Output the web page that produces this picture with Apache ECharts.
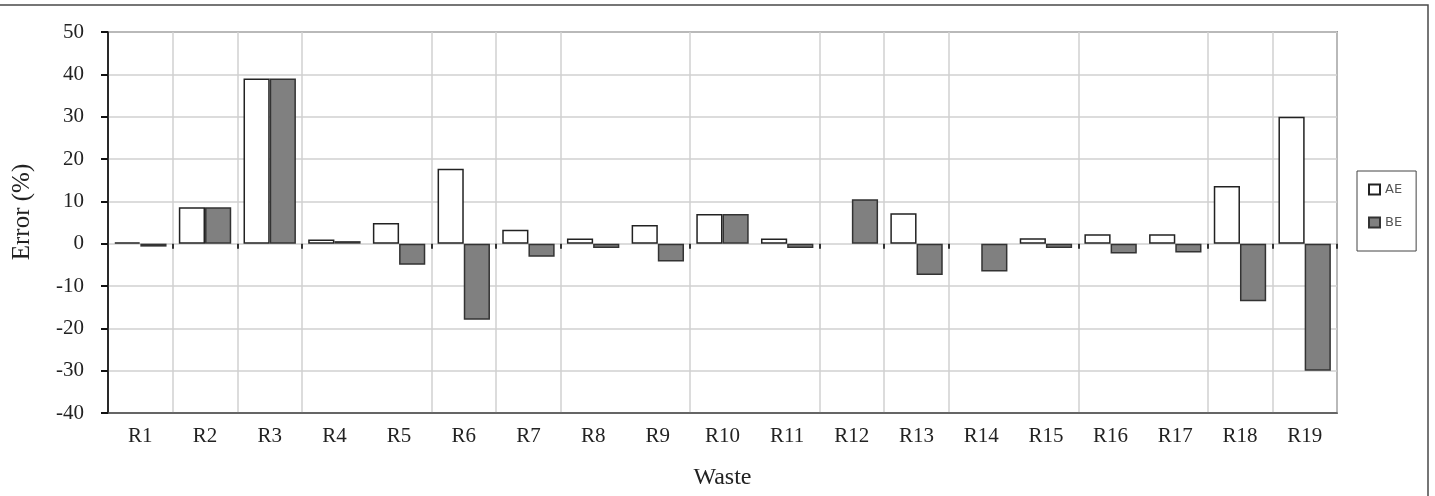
<!DOCTYPE html>
<html>
<head>
<meta charset="utf-8">
<script src="https://cdn.jsdelivr.net/npm/echarts@6/dist/echarts.min.js"></script>
<style>
  html, body { margin: 0; padding: 0; background: #fff; }
  #chart { width: 1435px; height: 496px; }
</style>
</head>
<body>
<div id="chart"></div>
<script>
const categories = ['R1', 'R2', 'R3', 'R4', 'R5', 'R6', 'R7', 'R8', 'R9', 'R10',
  'R11', 'R12', 'R13', 'R14', 'R15', 'R16', 'R17', 'R18', 'R19'];
// R12 and R14 show no AE bar in the source
const aeValues = [0.3, 8.6, 39, 1, 4.9, 17.7, 3.3, 1.2, 4.4, 7, 1.2, null, 7.2, null, 1.3, 2.2, 2.2, 13.6, 30];
const beValues = [-0.7, 8.6, 39, 0.6, -5, -18, -3.1, -1, -4.2, 7, -1, 10.5, -7.4, -6.6, -1, -2.3, -2.1, -13.6, -30];
const yTicks = { min: -40, max: 50, interval: 10 };
// boundaries that have a vertical grid line in the source
const gridBoundaries = [1, 2, 3, 5, 6, 7, 9, 11, 12, 13, 15, 17, 18];

const chart = echarts.init(document.getElementById('chart'));
const serif = '"Liberation Serif", "DejaVu Serif", serif';
const showBoundary = (idx) => gridBoundaries.includes(idx);

chart.setOption({
  animation: false,
  backgroundColor: '#fff',
  graphic: [{
    type: 'rect',
    shape: { x: -2, y: 5, width: 1430, height: 500 },
    style: { fill: 'none', stroke: '#4a4a4a', lineWidth: 1.5 },
    silent: true,
  }, {
    // y axis title, placed like the source (a bit above centre)
    type: 'text',
    x: 22, y: 212,
    rotation: Math.PI / 2,
    style: {
      text: 'Error (%)',
      fontFamily: serif, fontSize: 25, fill: '#222',
      align: 'center', verticalAlign: 'middle',
    },
    silent: true,
  }],
  grid: {
    left: 108, right: 98, top: 32, bottom: 83,
    show: true, borderColor: '#4a4a4a', borderWidth: 1.5,
  },
  legend: {
    orient: 'vertical',
    left: 1357, top: 171,
    padding: [12, 14, 22, 11],
    borderColor: '#444', borderWidth: 1,
    itemWidth: 11, itemHeight: 10, itemGap: 20,
    icon: 'rect',
    textStyle: { fontFamily: '"DejaVu Sans", sans-serif', fontSize: 13, color: '#555' },
    data: ['AE', 'BE'],
  },
  xAxis: [{
    type: 'category',
    data: categories,
    name: 'Waste',
    nameLocation: 'middle',
    nameGap: 53,
    nameTextStyle: { fontFamily: serif, fontSize: 24, color: '#222' },
    axisLine: { onZero: false, lineStyle: { color: '#4a4a4a', width: 1.5 } },
    axisTick: { show: false },
    axisLabel: { fontFamily: serif, fontSize: 21, color: '#222', margin: 13 },
    splitLine: { show: true, interval: showBoundary, lineStyle: { color: '#d0d0d0', width: 1.5 } },
  }, {
    type: 'category',
    data: categories,
    position: 'bottom',
    axisLine: { show: false, onZero: true },
    axisTick: { show: true, interval: showBoundary, length: 5, lineStyle: { color: '#333', width: 2 } },
    axisLabel: { show: false },
    splitLine: { show: false },
  }],
  yAxis: {
    type: 'value',
    min: yTicks.min, max: yTicks.max, interval: yTicks.interval,
    axisLine: { show: true, lineStyle: { color: '#111', width: 1.5 } },
    axisTick: { show: true, length: 7, lineStyle: { color: '#111', width: 2 } },
    axisLabel: { fontFamily: serif, fontSize: 21, color: '#222', margin: 24 },
    splitLine: { show: true, lineStyle: { color: '#d0d0d0', width: 1.5 } },
  },
  series: [{
    name: 'AE',
    type: 'bar',
    data: aeValues,
    barGap: '0%',
    barCategoryGap: '19%',
    itemStyle: { color: '#fff', borderColor: '#222', borderWidth: 1.5 },
  }, {
    name: 'BE',
    type: 'bar',
    data: beValues,
    itemStyle: { color: '#808080', borderColor: '#333', borderWidth: 1.5 },
  }],
});
</script>
</body>
</html>
